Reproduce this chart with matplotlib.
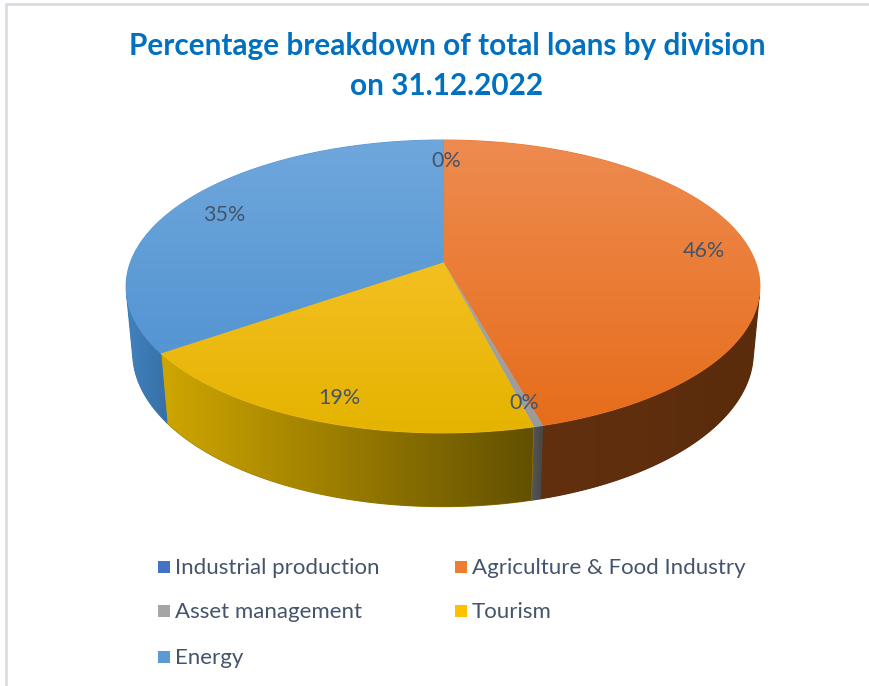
import numpy as np
import matplotlib.pyplot as plt
from matplotlib.patches import Polygon, Rectangle
from matplotlib.colors import LinearSegmentedColormap, to_rgb

plt.rcParams['font.family'] = ['Lato', 'DejaVu Sans']

# loan shares by division, in percent
divisions = ['Industrial production', 'Agriculture & Food Industry',
             'Asset management', 'Tourism', 'Energy']
shares = [0.0, 45.7, 0.4, 19.1, 34.8]

legend_colors = ['#4472c4', '#ed7d31', '#a5a5a5', '#ffc000', '#5b9bd5']
# (light, dark) shades for the top faces and the outer walls
top_shades = [('#5b86d0', '#3f6cbf'), ('#ee8b50', '#e66c19'),
              ('#b0b0b0', '#9a9a9a'), ('#fdc93a', '#e5b300'),
              ('#6fa7dc', '#4a8ecf')]
side_shades = [('#2f4f8c', '#26437a'), ('#62300f', '#5a2c0c'),
               ('#575757', '#464646'), ('#cfa600', '#625000'),
               ('#4282bf', '#3770a5')]

TITLE = 'Percentage breakdown of total loans by division\non 31.12.2022'
TEXT_COLOR = '#44546a'

# camera for the tilted pie
ELEV = np.radians(27.1)
DIST = 5.33
SCALE = 1665.0
CX, CY = 443.0, 262.0
THICK = 0.239


def project(x, y, z):
    den = DIST + y * np.cos(ELEV) - z * np.sin(ELEV)
    return CX + SCALE * x / den, CY - SCALE * (y * np.sin(ELEV) + z * np.cos(ELEV)) / den


def rim(theta_deg, z=0.0, r=1.0):
    t = np.radians(theta_deg)
    return project(r * np.sin(t), r * np.cos(t), z)


def gradient_fill(ax, xs, ys, c0, c1, vertical, span, zorder):
    mid = tuple((np.array(to_rgb(c0)) + np.array(to_rgb(c1))) / 2)
    poly = Polygon(np.column_stack([xs, ys]), closed=True, facecolor=mid,
                   edgecolor=mid, lw=0.8, zorder=zorder)
    ax.add_patch(poly)
    cmap = LinearSegmentedColormap.from_list('g', [c0, c1])
    ramp = np.linspace(0, 1, 256)
    lo, hi = span
    if vertical:
        img = ax.imshow(ramp.reshape(-1, 1), cmap=cmap, origin='upper', aspect='auto',
                        extent=(xs.min(), xs.max(), hi, lo), zorder=zorder + 0.1,
                        interpolation='bilinear')
    else:
        img = ax.imshow(ramp.reshape(1, -1), cmap=cmap, origin='upper', aspect='auto',
                        extent=(lo, hi, ys.max(), ys.min()), zorder=zorder + 0.1,
                        interpolation='bilinear')
    img.set_clip_path(poly)


fig = plt.figure(figsize=(8.7, 6.86), dpi=100)
ax = fig.add_axes([0, 0, 1, 1])

# slice boundaries, clockwise from 12 o'clock
bounds = np.concatenate([[0], np.cumsum(shares)]) / sum(shares) * 360.0
# outer wall is visible only where it faces the camera
edge = np.degrees(np.arccos(-1.0 / (DIST * np.cos(ELEV))))
vis_lo, vis_hi = edge, 360.0 - edge

top_y = rim(0)[1]
bottom_y = rim(180)[1]

# outer walls
for i in range(len(shares)):
    a, b = max(bounds[i], vis_lo), min(bounds[i + 1], vis_hi)
    if b <= a:
        continue
    t = np.linspace(a, b, max(int(b - a) * 2, 2))
    tx, ty = rim(t)
    bx, by = rim(t, z=-THICK)
    xs = np.concatenate([tx, bx[::-1]])
    ys = np.concatenate([ty, by[::-1]])
    gradient_fill(ax, xs, ys, *side_shades[i], vertical=False,
                  span=(xs.min(), xs.max()), zorder=1 + i * 0.2)

# top faces
for i in range(len(shares)):
    a, b = bounds[i], bounds[i + 1]
    if b <= a:
        continue
    t = np.linspace(a, b, max(int(b - a) * 2, 2))
    tx, ty = rim(t)
    xs = np.concatenate([[CX], tx])
    ys = np.concatenate([[CY], ty])
    gradient_fill(ax, xs, ys, *top_shades[i], vertical=True,
                  span=(top_y, bottom_y), zorder=3 + i * 0.2)

# percentage labels
for i, v in enumerate(shares):
    mid = (bounds[i] + bounds[i + 1]) / 2
    lx, ly = rim(mid, r=0.85)
    ax.text(lx + 3, ly + 5, f'{v:.0f}%', ha='center', va='center', fontsize=15.5,
            color=TEXT_COLOR, zorder=10)

ax.text(447, 66, TITLE, ha='center', va='center', fontsize=21.4,
        fontweight='bold', color='#0070c0', linespacing=1.5)

# legend, two columns filled row by row
col_x = [158, 455]
row_y = [567, 611, 657]
for i, name in enumerate(divisions):
    x0, y0 = col_x[i % 2], row_y[i // 2]
    ax.add_patch(Rectangle((x0, y0 - 6), 12, 12, facecolor=legend_colors[i],
                           edgecolor='none', zorder=5))
    ax.text(x0 + 17, y0 + 1, name, ha='left', va='center', fontsize=16,
            color=TEXT_COLOR)

# chart frame
ax.plot([6, 6, 870], [686, 4, 4], color='#d9dde3', lw=2, solid_joinstyle='miter')

ax.set_xlim(0, 870)
ax.set_ylim(686, 0)
ax.axis('off')

fig.savefig('out.png', dpi=100)
